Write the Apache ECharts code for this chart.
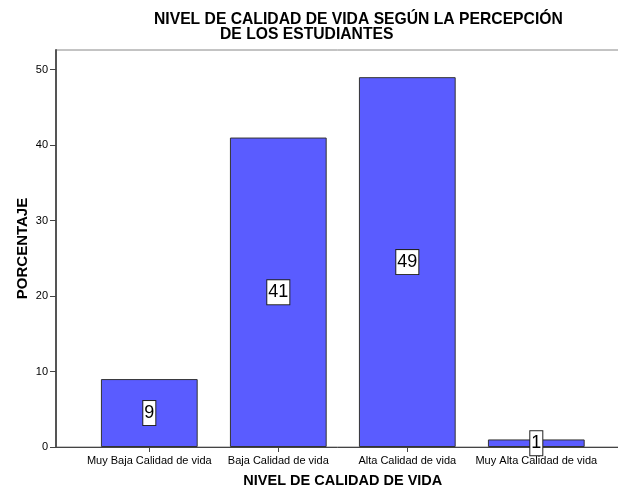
<!DOCTYPE html>
<html>
<head>
<meta charset="utf-8">
<script src="https://cdn.jsdelivr.net/npm/echarts@6/dist/echarts.min.js"></script>
<style>
html,body{margin:0;padding:0;background:#fff;}
#c{width:618px;height:491px;}
</style>
</head>
<body>
<div id="c"></div>
<script>
const titleLine1 = 'NIVEL DE CALIDAD DE VIDA SEGÚN LA PERCEPCIÓN';
const titleLine2 = 'DE LOS ESTUDIANTES';
const xAxisTitle = 'NIVEL DE CALIDAD DE VIDA';
const yAxisTitle = 'PORCENTAJE';
const categories = ['Muy Baja Calidad de vida', 'Baja Calidad de vida', 'Alta Calidad de vida', 'Muy Alta Calidad de vida'];
const percentages = [9, 41, 49, 1];
const yTicks = [0, 10, 20, 30, 40, 50];
const yMax = 52.6;

const FONT = 'Liberation Sans, Arial, sans-serif';
const chart = echarts.init(document.getElementById('c'), null, {renderer: 'canvas'});
chart.setOption({
  animation: false,
  backgroundColor: '#fff',
  title: [
    {text: titleLine1, left: 154, top: 12, padding: 0,
     textStyle: {fontFamily: FONT, fontSize: 15.7, fontWeight: 'bold', color: '#000'}},
    {text: titleLine2, left: 220, top: 27, padding: 0,
     textStyle: {fontFamily: FONT, fontSize: 15.7, fontWeight: 'bold', color: '#000'}}
  ],
  grid: [
    {left: 56, top: 50, width: 590, bottom: 44, show: true, borderColor: '#888', borderWidth: 1,
     backgroundColor: 'transparent', outerBoundsMode: 'none', containLabel: false},
    {left: 84.8, top: 50, width: 516, bottom: 44, outerBoundsMode: 'none', containLabel: false}
  ],
  xAxis: [
    {gridIndex: 0, type: 'value', min: 0, max: 1,
     axisLine: {show: true, lineStyle: {color: '#444', width: 1}},
     axisTick: {show: false}, axisLabel: {show: false}, splitLine: {show: false}},
    {gridIndex: 1, type: 'category', data: categories,
     name: xAxisTitle, nameLocation: 'middle', nameGap: 26, nameMoveOverlap: false,
     nameTextStyle: {fontFamily: FONT, fontSize: 14.5, fontWeight: 'bold', color: '#000'},
     axisLine: {show: false},
     axisTick: {show: true, alignWithLabel: true, length: 5, lineStyle: {color: '#444'}},
     axisLabel: {fontFamily: FONT, fontSize: 11, color: '#000', margin: 8, interval: 0},
     splitLine: {show: false}}
  ],
  yAxis: [
    {gridIndex: 0, type: 'value', min: 0, max: yMax, interval: 10,
     name: yAxisTitle, nameLocation: 'middle', nameGap: 26, nameRotate: 90, nameMoveOverlap: false,
     nameTextStyle: {fontFamily: FONT, fontSize: 15, fontWeight: 'bold', color: '#000'},
     axisLine: {show: true, lineStyle: {color: '#555', width: 2}},
     axisTick: {show: true, length: 6, customValues: yTicks, lineStyle: {color: '#444'}},
     axisLabel: {fontFamily: FONT, fontSize: 11, color: '#000', margin: 8, customValues: yTicks},
     splitLine: {show: false}},
    {gridIndex: 1, type: 'value', min: 0, max: yMax, show: false, splitLine: {show: false}}
  ],
  series: [{
    type: 'bar', xAxisIndex: 1, yAxisIndex: 1,
    data: percentages, barWidth: '75%',
    itemStyle: {color: '#5a5cff', borderColor: '#333', borderWidth: 1},
    label: {show: true, position: 'inside',
      fontFamily: FONT,
      fontSize: 18, lineHeight: 21, color: '#000',
      backgroundColor: '#fff', borderColor: '#222', borderWidth: 1,
      padding: [2, 1, 1, 1]}
  }]
});
</script>
</body>
</html>
